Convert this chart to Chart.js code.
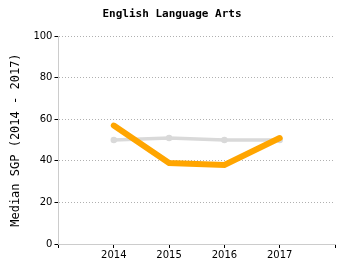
<!DOCTYPE html>
<html>
<head>
<meta charset="utf-8">
<script src="https://cdn.jsdelivr.net/npm/chart.js@4/dist/chart.umd.min.js"></script>
<style>
  html, body { margin: 0; padding: 0; background: #fff; }
  #wrap { width: 350px; height: 275px; }
</style>
</head>
<body>
<div id="wrap"><canvas id="sgpChart" width="350" height="275"></canvas></div>
<script>
// Values
const years = [2014, 2015, 2016, 2017];
const stateMedian = [50, 51, 50, 50];
const schoolMedian = [57, 39, 38, 51];
const yTicks = [0, 20, 40, 60, 80, 100];

const toPoints = (vals) => vals.map((v, i) => ({ x: years[i], y: v }));

const ctx = document.getElementById('sgpChart').getContext('2d');
new Chart(ctx, {
  type: 'line',
  data: {
    datasets: [
      {
        label: 'School',
        data: toPoints(schoolMedian),
        borderColor: '#ffa500',
        backgroundColor: '#ffa500',
        borderWidth: 6,
        pointRadius: 0,
        borderCapStyle: 'round',
        borderJoinStyle: 'miter',
        tension: 0,
      },
      {
        label: 'State',
        data: toPoints(stateMedian),
        borderColor: '#d9d9d9',
        backgroundColor: '#d9d9d9',
        borderWidth: 3.5,
        pointRadius: 1.5,
        tension: 0,
      },
    ],
  },
  options: {
    responsive: false,
    animation: false,
    layout: { padding: { left: 9, right: 15, top: 0, bottom: 13 } },
    plugins: {
      legend: { display: false },
      tooltip: { enabled: false },
      title: {
        display: true,
        text: 'English Language Arts',
        color: '#000',
        font: { family: 'DejaVu Sans Mono', size: 11, weight: 'bold' },
        padding: { top: 8, bottom: 15 },
      },
    },
    scales: {
      x: {
        type: 'linear',
        min: years[0] - 1,
        max: years[years.length - 1] + 1,
        ticks: {
          stepSize: 1,
          color: '#000',
          font: { family: 'DejaVu Sans', size: 10 },
          padding: 1,
          maxRotation: 0,
          callback: (v) => (years.includes(v) ? String(v) : ''),
        },
        grid: {
          drawOnChartArea: false,
          tickLength: 4,
          tickColor: '#000',
        },
        border: { color: '#cccccc', width: 1 },
      },
      y: {
        min: 0,
        max: 100,
        afterBuildTicks: (axis) => { axis.ticks = yTicks.map((v) => ({ value: v })); },
        ticks: {
          color: '#000',
          font: { family: 'DejaVu Sans', size: 10 },
          padding: 2,
        },
        grid: {
          color: '#b0b0b0',
          tickLength: 4,
          tickColor: '#000',
          tickBorderDash: [],
        },
        border: { color: '#cccccc', width: 1, dash: [1, 2] },
        title: {
          display: true,
          text: 'Median SGP (2014 - 2017)',
          color: '#000',
          font: { family: 'DejaVu Sans Mono', size: 12 },
          padding: { top: 0, bottom: 8 },
        },
      },
    },
  },
});
</script>
</body>
</html>
